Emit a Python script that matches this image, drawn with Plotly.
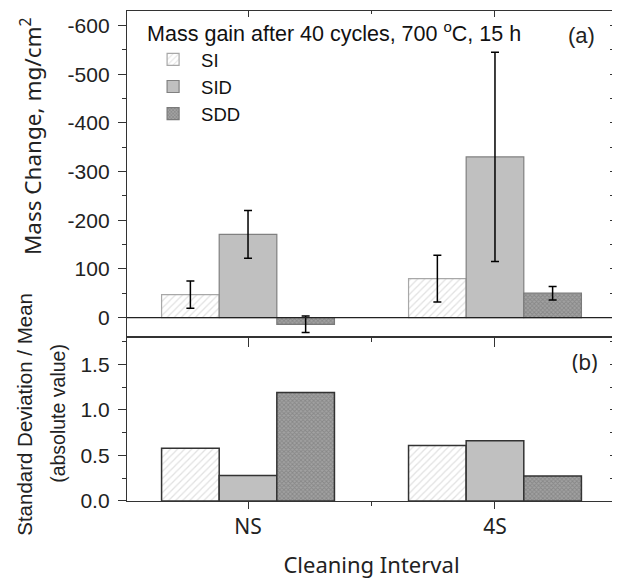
import plotly.graph_objects as go

categories = ["NS", "4S"]
series = ["SI", "SID", "SDD"]
mass_change = {"SI": [47, 80], "SID": [171, 330], "SDD": [-14, 50]}
mass_err = {"SI": [28, 48], "SID": [49, 215], "SDD": [17, 14]}
sd_over_mean = {"SI": [0.58, 0.61], "SID": [0.28, 0.66], "SDD": [1.19, 0.275]}
top_tickvals = [0, -100, -200, -300, -400, -500, -600]
top_ticktext = ["0", "100", "-200", "-300", "-400", "-500", "-600"]

xpos = list(range(len(categories)))

styles = {
    "SI": dict(color="white", pattern=dict(shape="/", fgcolor="#c4c4c4", bgcolor="white", size=5, solidity=0.25)),
    "SID": dict(color="#c0c0c0"),
    "SDD": dict(color="#8e8e8e", pattern=dict(shape="x", fgcolor="#6e6e6e", bgcolor="#a2a2a2", size=3, solidity=0.5)),
}
top_line = {"SI": "#a8a8a8", "SID": "#808080", "SDD": "#7a7a7a"}

fig = go.Figure()
for s in series:
    st = styles[s]
    fig.add_trace(go.Bar(
        x=xpos, y=[-v for v in mass_change[s]], name=s, xaxis="x2", yaxis="y2",
        marker=dict(color=st["color"], pattern=st.get("pattern"), line=dict(color=top_line[s], width=1.2)),
        error_y=dict(type="data", array=mass_err[s], color="black", thickness=1.5, width=4),
        showlegend=True, legendgroup=s,
    ))
for s in series:
    st = styles[s]
    fig.add_trace(go.Bar(
        x=xpos, y=sd_over_mean[s], name=s, xaxis="x", yaxis="y",
        marker=dict(color=st["color"], pattern=st.get("pattern"), line=dict(color="#333333", width=1.5)),
        showlegend=False, legendgroup=s,
    ))

# helper (invisible) traces so the mirrored inside-tick axes get drawn
for xa, ya in [("x3", "y3"), ("x", "y4")]:
    fig.add_trace(go.Scatter(x=[xpos[0]], y=[0], xaxis=xa, yaxis=ya, mode="markers",
                             marker=dict(opacity=0), showlegend=False, hoverinfo="skip"))

num_font = dict(family="Liberation Sans, Arial, sans-serif", size=21, color="#222")
kfont = dict(family="Noto Sans, Open Sans, sans-serif", size=21, color="#222")
xr = [-0.49, 1.49]
top_dom = [0.3347, 1.0]
bot_dom = [0.0, 0.3347]
tc = "#333"

common_line = dict(showline=True, linecolor=tc, linewidth=1.3, showgrid=False, zeroline=False, automargin=False)
plain = dict(showgrid=False, zeroline=False, showline=False, automargin=False)

fig.update_layout(
    width=612, height=574,
    margin=dict(l=119, r=4, t=3, b=81, autoexpand=False),
    paper_bgcolor="white", plot_bgcolor="white",
    barmode="group", bargap=0.3, bargroupgap=0,
    xaxis=dict(domain=[0, 1], anchor="y", range=xr, tickmode="array", tickvals=xpos, ticktext=categories,
               ticks="outside", ticklen=7, tickwidth=1.3, tickcolor=tc, tickfont=kfont,
               minor=dict(tickmode="array", tickvals=[0.5], ticks="outside", ticklen=4, tickwidth=1.3, tickcolor=tc),
               mirror=True, title=dict(text="Cleaning Interval", font=dict(family="Noto Sans, Open Sans, sans-serif", size=22, color="#222"), standoff=18), **common_line),
    yaxis=dict(domain=bot_dom, anchor="x", range=[0, 1.8], tickvals=[0, 0.5, 1.0, 1.5], ticktext=["0.0", "0.5", "1.0", "1.5"],
               ticks="outside", ticklen=8, tickwidth=1.3, tickcolor=tc, tickfont=num_font, ticklabelstandoff=4,
               minor=dict(tickmode="array", tickvals=[0.25, 0.75, 1.25, 1.75], ticks="outside", ticklen=4, tickwidth=1.3, tickcolor=tc),
               mirror=True, **common_line),
    yaxis4=dict(overlaying="y", side="right", anchor="x", range=[0, 1.8], tickvals=[0, 0.5, 1.0, 1.5, 0.25, 0.75, 1.25, 1.75],
                showticklabels=False, ticks="inside", ticklen=6, tickwidth=1.3, tickcolor=tc, **plain),
    xaxis2=dict(domain=[0, 1], anchor="y2", range=xr, tickvals=xpos, showticklabels=False,
                ticks="outside", ticklen=9, tickwidth=1.3, tickcolor=tc,
                minor=dict(tickmode="array", tickvals=[0.5], ticks="outside", ticklen=4, tickwidth=1.3, tickcolor=tc),
                mirror=True, **common_line),
    xaxis3=dict(overlaying="x2", side="top", anchor="y2", range=xr, tickvals=xpos, showticklabels=False,
                ticks="inside", ticklen=6, tickwidth=1.3, tickcolor=tc,
                minor=dict(tickmode="array", tickvals=[0.5], ticks="inside", ticklen=3, tickwidth=1.3, tickcolor=tc),
                **plain),
    yaxis2=dict(domain=top_dom, anchor="x2", range=[40, -630], tickvals=top_tickvals, ticktext=top_ticktext,
                ticks="outside", ticklen=8, tickwidth=1.3, tickcolor=tc, tickfont=num_font, ticklabelstandoff=4,
                minor=dict(tickmode="array", tickvals=[-50, -150, -250, -350, -450, -550], ticks="outside", ticklen=4, tickwidth=1.3, tickcolor=tc),
                mirror=True, **common_line),
    yaxis3=dict(overlaying="y2", side="right", anchor="x3", range=[40, -630],
                tickvals=[0, -50, -100, -150, -200, -250, -300, -350, -400, -450, -500, -550, -600],
                showticklabels=False, ticks="inside", ticklen=6, tickwidth=1.3, tickcolor=tc, **plain),
    legend=dict(x=0.037, y=0.996, xanchor="left", yanchor="top", bgcolor="rgba(0,0,0,0)",
                font=dict(family="Liberation Sans, Arial, sans-serif", size=18.5, color="#111"),
                title=dict(text="Mass gain after 40 cycles, 700 <sup>o</sup>C, 15 h",
                           font=dict(family="Liberation Sans, Arial, sans-serif", size=21.5, color="#111")),
                tracegroupgap=0, itemwidth=46),
    showlegend=True,
)

# zero line in top panel
fig.add_shape(type="line", xref="x2 domain", yref="y2", x0=0, x1=1, y0=0, y1=0,
              line=dict(color="#222", width=1.3))

fig.add_annotation(text="(a)", xref="paper", yref="paper", x=0.930, y=0.951, xanchor="center", yanchor="middle",
                   showarrow=False, font=dict(family="Liberation Sans, Arial, sans-serif", size=22, color="#222"))
fig.add_annotation(text="(b)", xref="paper", yref="paper", x=0.937, y=0.284, xanchor="center", yanchor="middle",
                   showarrow=False, font=kfont)
fig.add_annotation(text="Mass Change, mg/cm<sup>2</sup>", xref="paper", yref="paper",
                   x=-0.196, y=0.745, xanchor="center", yanchor="middle", textangle=-90, showarrow=False,
                   font=dict(family="Noto Sans, Open Sans, sans-serif", size=22.5, color="#222"))
fig.add_annotation(text="Standard Deviation / Mean", xref="paper", yref="paper",
                   x=-0.2086, y=0.178, xanchor="center", yanchor="middle", textangle=-90, showarrow=False,
                   font=dict(family="Liberation Sans, Arial, sans-serif", size=20.5, color="#222"))
fig.add_annotation(text="(absolute value)", xref="paper", yref="paper",
                   x=-0.141, y=0.178, xanchor="center", yanchor="middle", textangle=-90, showarrow=False,
                   font=dict(family="Liberation Sans, Arial, sans-serif", size=19.5, color="#222"))

fig.write_html("out.html")
